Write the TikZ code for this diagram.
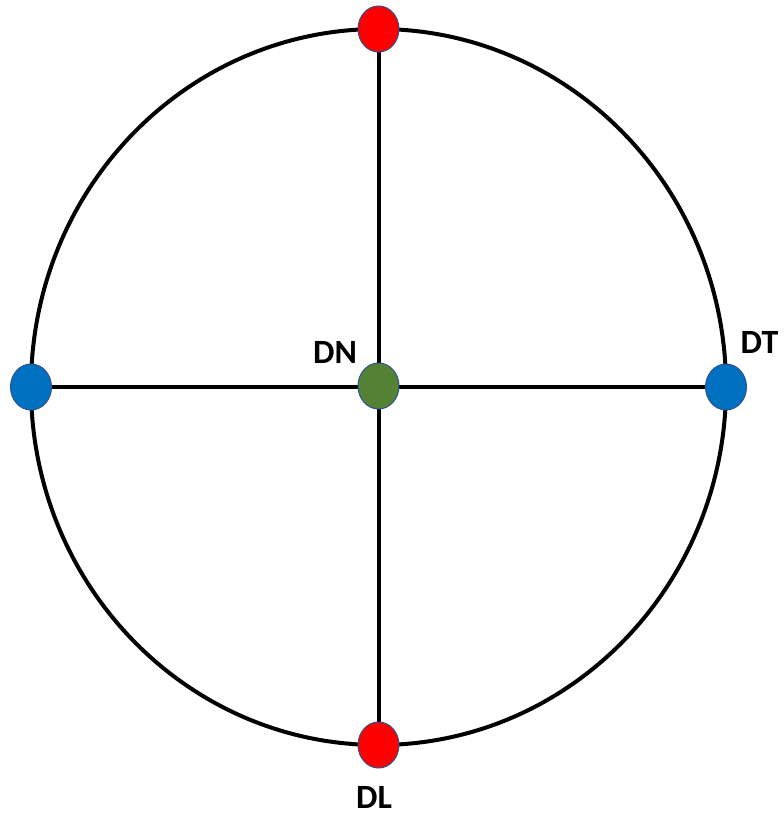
\documentclass[tikz,border=0pt]{standalone}
\usepackage{fontspec}
\setmainfont{Carlito}
\usepackage{xcolor}
\usetikzlibrary{positioning, backgrounds, shapes.geometric}

\definecolor{dotred}{HTML}{FF0000}
\definecolor{dotblue}{HTML}{0070C0}
\definecolor{dotgreen}{HTML}{548235}
\definecolor{dotedge}{HTML}{2F528F}

\begin{document}
\begin{tikzpicture}[x=0.5pt, y=-0.5pt,
    dot/.style={ellipse, draw=dotedge, line width=0.5pt, minimum width=20.5pt, minimum height=23pt, inner sep=0pt},
    lbl/.style={font=\fontsize{17pt}{19pt}\selectfont\bfseries, inner sep=0pt}]
      \useasboundingbox (0,0) rectangle (783,813);

      % Dots on the circle and at the centre
      \node[dot, fill=dotred] (top) at (378.5,29) {};
      \node[dot, fill=dotred] (bottom) at (378.5,745) {};
      \node[dot, fill=dotblue] (left) at (31,387) {};
      \node[dot, fill=dotblue] (right) at (726,387) {};
      \node[dot, fill=dotgreen] (centre) at (378.5,386) {};

      % Labels
      \node[lbl] (dn) at (335,352) {DN};
      \node[lbl] (dt) at (759.5,342) {DT};
      \node[lbl] (dl) at (374,797) {DL};

      % Circle and axes behind the dots
      \begin{scope}[on background layer]
        \draw[line width=2pt] (378.5,387) ellipse [x radius=347.5, y radius=358];
        \draw[line width=2pt] (top.center) -- (bottom.center);
        \draw[line width=2pt] (left.center) -- (right.center);
      \end{scope}
    \end{tikzpicture}
\end{document}
